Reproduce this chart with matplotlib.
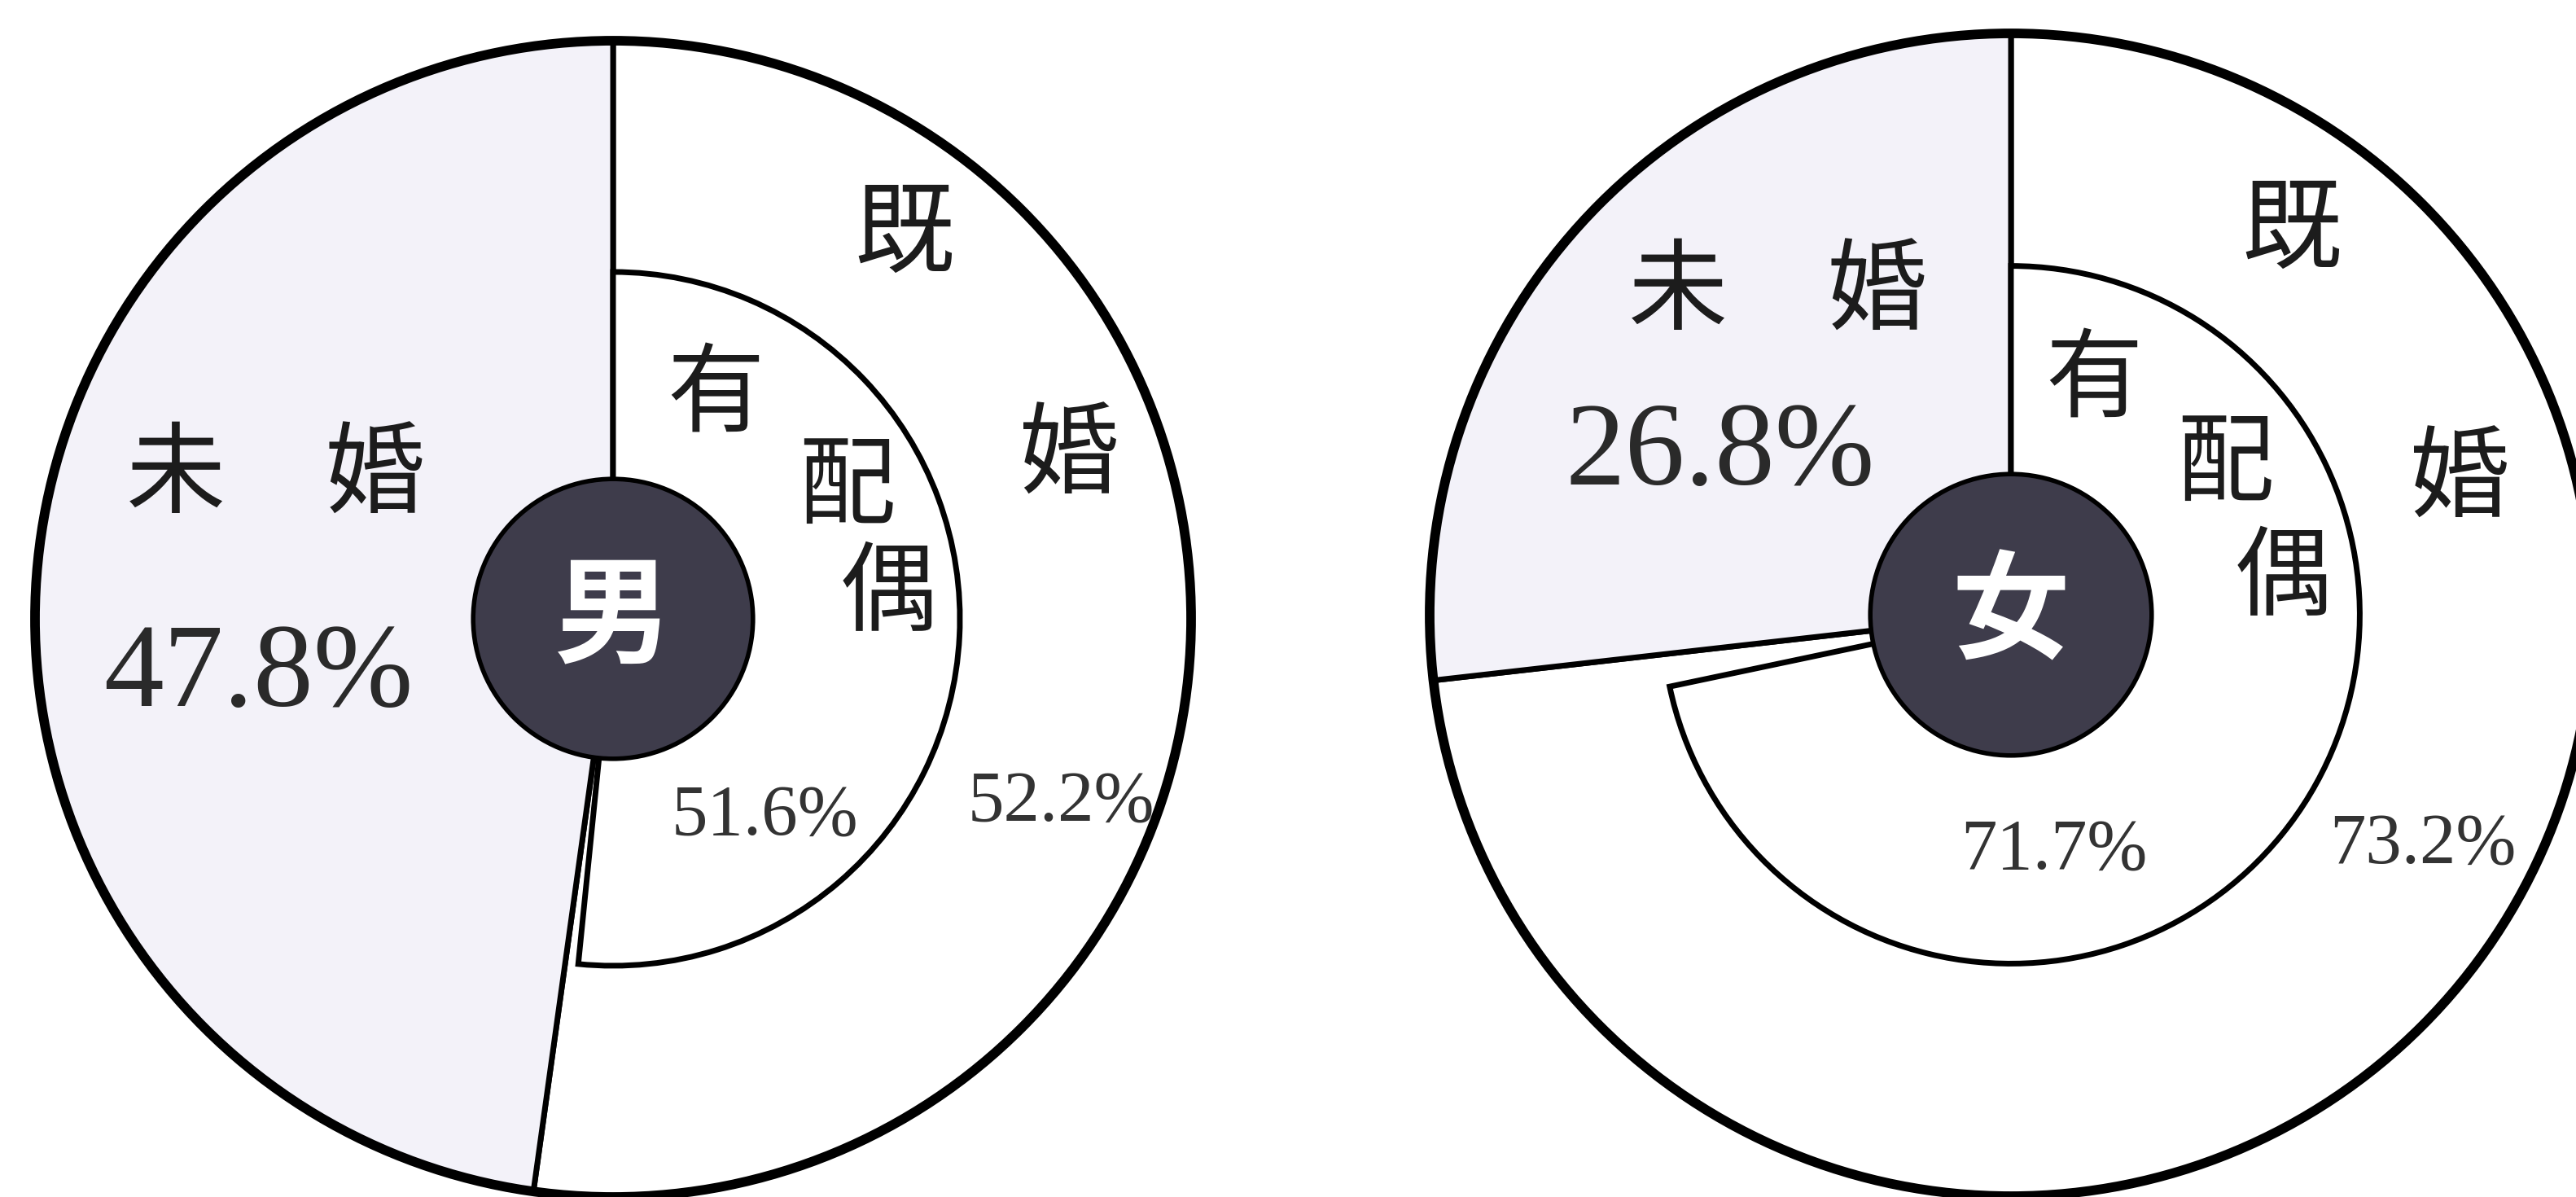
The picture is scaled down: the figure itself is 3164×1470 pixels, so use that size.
import matplotlib
matplotlib.use('Agg')
import matplotlib.pyplot as plt
from matplotlib.patches import Circle

# data
groups = ['男', '女']
unmarried = [47.8, 26.8]     # 未婚
married = [52.2, 73.2]       # 既婚
with_spouse = [51.6, 71.7]   # 有配偶
married_chars = ['既', '婚']
unmarried_label = '未\u3000婚'
spouse_chars = ['有', '配', '偶']

plt.rcParams['font.family'] = ['Noto Sans CJK JP', 'DejaVu Sans']

W, H = 3164, 1470
LIGHT = '#f3f2f9'
DARK = '#3e3c4b'
INK = '#1c1c1c'

# pie placement in pixels (y up)
centers = [(753, 710), (2470, 715)]
radii = [710, 714]
inner_frac = 0.60
core_frac = 0.242

# label offsets, in units of the outer radius
layouts = [
    dict(married=[(0.504, 0.661), (0.789, 0.279)], unmarried=(-0.584, 0.245),
         unmarried_pct=(-0.613, -0.101),
         spouse=[(0.177, 0.385), (0.404, 0.225), (0.476, 0.041)],
         spouse_pct=(0.262, -0.342), married_pct=(0.775, -0.318)),
    dict(married=[(0.482, 0.657), (0.772, 0.230)], unmarried=(-0.401, 0.552),
         unmarried_pct=(-0.501, 0.273),
         spouse=[(0.143, 0.401), (0.368, 0.256), (0.468, 0.060)],
         spouse_pct=(0.074, -0.406), married_pct=(0.709, -0.396)),
]


def main():
    fig = plt.figure(figsize=(W / 100, H / 100), dpi=100)
    ax = fig.add_axes([0, 0, 1, 1])

    for i, g in enumerate(groups):
        c = centers[i]
        r = radii[i]
        lay = layouts[i]

        # outer ring: married / unmarried
        ax.pie([married[i], unmarried[i]], radius=r, center=c, startangle=90,
               counterclock=False, colors=['white', LIGHT],
               wedgeprops=dict(edgecolor='black', linewidth=5.0))
        # inner wedge: with spouse
        wedges, _ = ax.pie([with_spouse[i], 100 - with_spouse[i]], radius=r * inner_frac,
                           center=c, startangle=90, counterclock=False,
                           colors=['white', 'none'],
                           wedgeprops=dict(edgecolor='black', linewidth=5.0))
        wedges[1].set_edgecolor('none')

        ax.add_patch(Circle(c, r, facecolor='none', edgecolor='black', lw=8.5, zorder=3))
        ax.add_patch(Circle(c, r * core_frac, facecolor=DARK, edgecolor='black', lw=4.0, zorder=4))
        ax.text(c[0], c[1], g, ha='center', va='center', color='white',
                fontsize=104, fontweight='bold', zorder=5)

        def pos(p):
            return c[0] + p[0] * r, c[1] + p[1] * r

        for ch, p in zip(married_chars, lay['married']):
            ax.text(*pos(p), ch, ha='center', va='center', color=INK, fontsize=88, zorder=5)
        ax.text(*pos(lay['unmarried']), unmarried_label, ha='center', va='center',
                color=INK, fontsize=88, zorder=5)
        for ch, p in zip(spouse_chars, lay['spouse']):
            ax.text(*pos(p), ch, ha='center', va='center', color=INK, fontsize=86, zorder=5)

        ax.text(*pos(lay['unmarried_pct']), f'{unmarried[i]}%', ha='center', va='center',
                color='#2a2a2a', fontsize=106, family='Liberation Serif', zorder=5)
        ax.text(*pos(lay['spouse_pct']), f'{with_spouse[i]}%', ha='center', va='center',
                color='#333333', fontsize=64, family='Liberation Serif', zorder=5)
        ax.text(*pos(lay['married_pct']), f'{married[i]}%', ha='center', va='center',
                color='#333333', fontsize=64, family='Liberation Serif', zorder=5)

    ax.set_xlim(0, W)
    ax.set_ylim(0, H)
    ax.set_aspect('equal')
    ax.axis('off')

    fig.savefig('out.png', dpi=100)


if __name__ == '__main__':
    main()
